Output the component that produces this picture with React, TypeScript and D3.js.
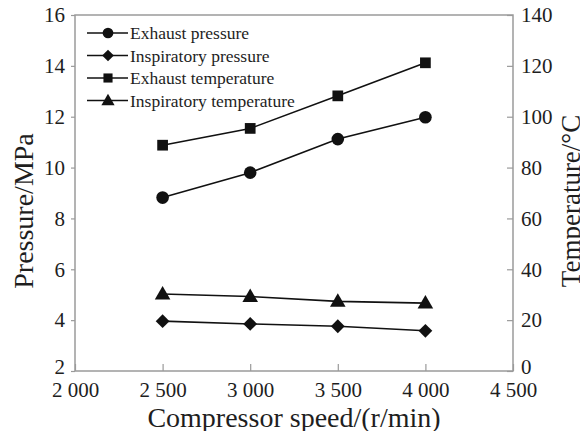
import { useEffect, useRef } from "react"
import * as d3 from "d3"

const speeds = [2500, 3000, 3500, 4000]
const exhaustPressure = [8.82, 9.8, 11.12, 11.98]
const inspiratoryPressure = [3.96, 3.85, 3.76, 3.58]
const exhaustTemperature = [88.8, 95.4, 108.2, 121.2]
const inspiratoryTemperature = [30.3, 29.3, 27.4, 26.7]

const xTicks = [2000, 2500, 3000, 3500, 4000, 4500]
const leftTicks = [2, 4, 6, 8, 10, 12, 14, 16]
const rightTicks = [0, 20, 40, 60, 80, 100, 120, 140]

const legendLabels = [
  "Exhaust pressure",
  "Inspiratory pressure",
  "Exhaust temperature",
  "Inspiratory temperature",
]

const fmt = (v: number) => (v >= 1000 ? `${Math.floor(v / 1000)} ${String(v % 1000).padStart(3, "0")}` : String(v))

export default function App() {
  const svgRef = useRef<SVGSVGElement>(null)

  useEffect(() => {
    const svg = d3.select(svgRef.current)
    svg.selectAll("*").remove()

    const width = 588
    const height = 439
    const margin = { top: 15, right: 75, bottom: 68, left: 75 }
    const font = '"Liberation Serif", "DejaVu Serif", serif'
    const axisColor = "#9a9a9a"
    const textColor = "#1e1e1e"

    const x = d3.scaleLinear().domain([2000, 4500]).range([margin.left, width - margin.right])
    const yL = d3.scaleLinear().domain([2, 16]).range([height - margin.bottom, margin.top])
    const yR = d3.scaleLinear().domain([0, 140]).range([height - margin.bottom, margin.top])

    const bottom = height - margin.bottom
    const right = width - margin.right

    // frame
    svg.append("rect")
      .attr("x", margin.left)
      .attr("y", margin.top)
      .attr("width", right - margin.left)
      .attr("height", bottom - margin.top)
      .attr("fill", "none")
      .attr("stroke", axisColor)
      .attr("stroke-width", 1.5)

    // bottom axis
    const gx = svg.append("g").attr("transform", `translate(0,${bottom})`)
      .call(d3.axisBottom(x).tickValues(xTicks).tickSizeInner(-7).tickSizeOuter(0).tickFormat(d => fmt(+d)))
    gx.select(".domain").remove()
    gx.selectAll("line").attr("stroke", axisColor).attr("stroke-width", 1.2)
    gx.selectAll("text").attr("y", 11).attr("dy", "0.71em")

    // left axis
    const gl = svg.append("g").attr("transform", `translate(${margin.left},0)`)
      .call(d3.axisLeft(yL).tickValues(leftTicks).tickSizeInner(4).tickSizeOuter(0).tickPadding(6))
    gl.select(".domain").remove()
    gl.selectAll("line").attr("stroke", axisColor).attr("stroke-width", 1.2)
    gl.selectAll("text").filter(d => d === 2).attr("dy", "0.1em")

    // right axis
    const gr = svg.append("g").attr("transform", `translate(${right},0)`)
      .call(d3.axisRight(yR).tickValues(rightTicks).tickSizeInner(-6).tickSizeOuter(0).tickPadding(8))
    gr.select(".domain").remove()
    gr.selectAll("line").attr("stroke", axisColor).attr("stroke-width", 1.2)
    gr.selectAll("text").filter(d => d === 0).attr("dy", "0.1em")

    svg.selectAll("g").attr("font-family", null)
    svg.selectAll(".tick text")
      .style("font-family", font)
      .style("font-size", "21px")
      .attr("fill", textColor)

    const title = (sel: d3.Selection<SVGTextElement, unknown, null, undefined>, size: number) =>
      sel.attr("text-anchor", "middle")
        .style("font-family", font)
        .style("font-size", `${size}px`)
        .attr("fill", textColor)

    svg.append("text")
      .attr("transform", `translate(33,${(margin.top + bottom) / 2 + 18}) rotate(-90)`)
      .call(title, 28)
      .text("Pressure/MPa")

    svg.append("text")
      .attr("transform", `translate(580,${(margin.top + bottom) / 2 + 8}) rotate(-90)`)
      .call(title, 27)
      .text("Temperature/°C")

    svg.append("text")
      .attr("x", (margin.left + right) / 2)
      .attr("y", 427)
      .call(title, 28)
      .text("Compressor speed/(r/min)")

    const symbols = [
      { gen: d3.symbol(d3.symbolCircle, 125), rot: 0, dy: 0 },
      { gen: d3.symbol(d3.symbolSquare, 95), rot: 45, dy: 0 },
      { gen: d3.symbol(d3.symbolSquare, 115), rot: 0, dy: 0 },
      { gen: d3.symbol(d3.symbolTriangle, 105), rot: 0, dy: 1 },
    ]

    const series = [
      { values: exhaustPressure, y: yL },
      { values: inspiratoryPressure, y: yL },
      { values: exhaustTemperature, y: yR },
      { values: inspiratoryTemperature, y: yR },
    ]

    series.forEach((s, i) => {
      const pts = speeds.map((sp, j) => [x(sp), s.y(s.values[j])] as [number, number])
      svg.append("path")
        .attr("d", d3.line()(pts))
        .attr("fill", "none")
        .attr("stroke", "#111")
        .attr("stroke-width", 1.6)
      svg.append("g").selectAll("path")
        .data(pts)
        .join("path")
        .attr("transform", d => `translate(${d[0]},${d[1] + symbols[i].dy}) rotate(${symbols[i].rot})`)
        .attr("d", symbols[i].gen())
        .attr("fill", "#111")
    })

    // legend
    const lg = svg.append("g").attr("transform", `translate(87,33)`)
    legendLabels.forEach((label, i) => {
      const row = lg.append("g").attr("transform", `translate(0,${i * 22.5})`)
      row.append("line")
        .attr("x1", 0).attr("x2", 41)
        .attr("stroke", "#111").attr("stroke-width", 1.6)
      row.append("path")
        .attr("transform", `translate(21,${symbols[i].dy}) rotate(${symbols[i].rot}) scale(0.85)`)
        .attr("d", symbols[i].gen())
        .attr("fill", "#111")
      row.append("text")
        .attr("x", 43)
        .attr("dy", "0.35em")
        .style("font-family", font)
        .style("font-size", "17.5px")
        .attr("fill", textColor)
        .text(label)
    })
  }, [])

  return <svg ref={svgRef} width={588} height={439} style={{ display: "block", margin: "-8px", background: "#fff" }} />
}
